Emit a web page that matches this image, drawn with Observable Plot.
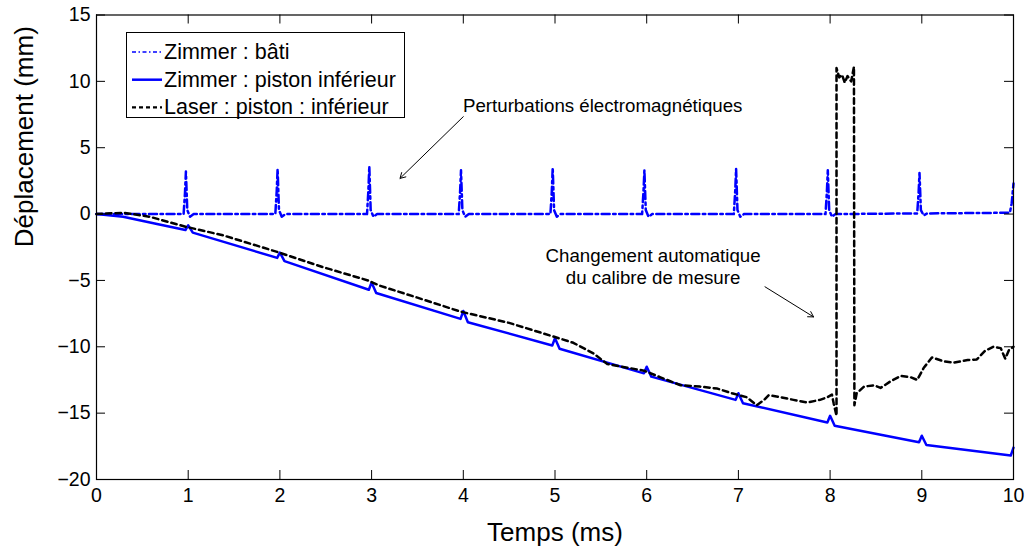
<!DOCTYPE html>
<html>
<head>
<meta charset="utf-8">
<script src="https://cdn.jsdelivr.net/npm/d3@7"></script>
<script src="https://cdn.jsdelivr.net/npm/@observablehq/plot@0.6"></script>
<style>
  html, body { margin: 0; padding: 0; background: #fff; }
  #wrap { position: relative; width: 1026px; height: 558px; font-family: "Liberation Sans", Arial, Helvetica, sans-serif; }
  #legend { position: absolute; left: 126px; top: 32px; width: 279px; height: 86px; border: 1.3px solid #000; background: #fff; box-sizing: border-box; }
  #legend svg { position: absolute; left: 0; top: 0; }
</style>
</head>
<body>
<div id="wrap"></div>
<script>
// ---- data (t in ms, displacement in mm) ----
const xTicks = [0, 1, 2, 3, 4, 5, 6, 7, 8, 9, 10];
const yTicks = [-20, -15, -10, -5, 0, 5, 10, 15];

const seriesNames = ["Zimmer : bâti", "Zimmer : piston inférieur", "Laser : piston : inférieur"];

const zimmerBati = [
  [0, 0], [0.95, 0], [0.965, 1.6], [0.975, 3.2], [0.99, 0.3], [1.02, -0.2], [1.06, 0],
  [1.95, 0], [1.965, 1.7], [1.975, 3.4], [1.99, 0.3], [2.02, -0.2], [2.06, 0],
  [2.95, 0], [2.965, 1.8], [2.975, 3.6], [2.99, 0.3], [3.02, -0.2], [3.06, 0],
  [3.95, 0], [3.965, 1.7], [3.975, 3.3], [3.99, 0.3], [4.02, -0.2], [4.06, 0],
  [4.95, 0], [4.965, 1.7], [4.975, 3.5], [4.99, 0.3], [5.02, -0.2], [5.06, 0],
  [5.95, 0], [5.965, 1.7], [5.975, 3.3], [5.99, 0.3], [6.02, -0.2], [6.06, 0],
  [6.95, 0], [6.965, 1.7], [6.975, 3.4], [6.99, 0.3], [7.02, -0.2], [7.06, 0],
  [7.95, 0], [7.965, 1.7], [7.975, 3.3], [7.99, 0.3], [8.02, -0.2], [8.06, 0],
  [8.95, 0.05], [8.965, 1.6], [8.975, 3.1], [8.99, 0.3], [9.02, -0.1], [9.06, 0.05],
  [9.96, 0.1], [9.98, 0.8], [10, 2.3]
];

const zimmerPiston = [
  [0, 0], [0.29, -0.2], [0.66, -0.75], [0.97, -1.2], [1.0, -0.85], [1.05, -1.4],
  [1.97, -3.3], [2.0, -2.9], [2.05, -3.55],
  [2.97, -5.7], [3.0, -5.15], [3.05, -5.95],
  [3.97, -7.9], [4.0, -7.3], [4.05, -8.15],
  [4.97, -9.9], [5.0, -9.35], [5.05, -10.15],
  [5.97, -12.0], [6.0, -11.5], [6.05, -12.25],
  [6.97, -14.0], [7.0, -13.5], [7.05, -14.25],
  [7.97, -15.7], [8.0, -15.2], [8.05, -15.95],
  [8.97, -17.2], [9.0, -16.7], [9.05, -17.4],
  [9.97, -18.2], [10.0, -17.6]
];

const laserPiston = [
  [0, 0], [0.3, 0.1], [0.58, -0.2], [0.97, -0.95], [1.38, -1.6], [1.97, -2.85],
  [2.47, -4.0], [2.96, -5.0], [3.09, -5.4], [3.5, -6.3], [3.97, -7.35], [4.5, -8.2],
  [4.97, -9.2], [5.2, -9.7], [5.42, -10.5], [5.57, -11.3], [5.97, -11.8], [6.15, -12.3],
  [6.37, -12.9], [6.58, -13.0], [6.77, -13.15], [6.93, -13.5], [7.09, -13.8], [7.2, -14.4],
  [7.28, -14.0], [7.33, -13.65], [7.46, -13.8], [7.6, -14.0], [7.75, -14.2], [7.89, -14.0],
  [7.97, -13.8], [8.02, -13.6], [8.04, -14.3], [8.07, -15.2], [8.07, 11.0], [8.1, 10.3],
  [8.13, 10.5], [8.16, 9.9], [8.19, 10.4], [8.23, 10.0], [8.26, 11.1], [8.265, -14.4],
  [8.29, -13.5], [8.37, -13.0], [8.48, -12.9], [8.55, -13.1], [8.66, -12.6], [8.77, -12.2],
  [8.88, -12.3], [8.95, -12.5], [9.02, -11.6], [9.11, -10.8], [9.24, -11.1], [9.35, -11.2],
  [9.5, -11.0], [9.6, -10.95], [9.69, -10.3], [9.78, -10.0], [9.86, -10.1], [9.91, -10.9],
  [9.95, -10.25], [10, -10.0]
];

const annotations = [
  {text: "Perturbations électromagnétiques", x: 5.52, y: 8.2},
  {text: "Changement automatique\ndu calibre de mesure", x: 6.07, y: -3.9}
];
const arrows = [
  {x1: 4.0, y1: 7.34, x2: 3.31, y2: 2.69},
  {x1: 7.29, y1: -5.48, x2: 7.82, y2: -7.75}
];

// ---- layout ----
const W = 1026, H = 558;
const mL = 96, mR = 13, mT = 14.5, mB = 79;
const innerW = W - mL - mR, innerH = H - mT - mB;
const tickLen = 9;
const font = "'Liberation Sans', Arial, Helvetica, sans-serif";
const blue = "#0000ff";

const chart = Plot.plot({
  width: W, height: H,
  marginLeft: mL, marginRight: mR, marginTop: mT, marginBottom: mB,
  style: {fontFamily: font, background: "#fff", color: "#000"},
  x: {domain: [0, 10]},
  y: {domain: [-20, 15]},
  marks: [
    Plot.line(zimmerBati, {x: d => d[0], y: d => d[1], stroke: blue, strokeWidth: 2.5, strokeDasharray: "8,3.5,2.5,3.5"}),
    Plot.line(zimmerPiston, {x: d => d[0], y: d => d[1], stroke: blue, strokeWidth: 2.5}),
    Plot.line(laserPiston, {x: d => d[0], y: d => d[1], stroke: "#000", strokeWidth: 2.5, strokeDasharray: "5.5,4"}),
    Plot.arrow(arrows, {x1: "x1", y1: "y1", x2: "x2", y2: "y2", stroke: "#000", strokeWidth: 1, headLength: 9}),
    Plot.text(annotations, {x: "x", y: "y", text: "text", fontSize: 18.7, fill: "#000", lineHeight: 1.16}),
    // inward ticks on all four sides
    Plot.ruleX(xTicks, {x: d => d, insetTop: innerH - tickLen, stroke: "#000"}),
    Plot.ruleX(xTicks, {x: d => d, insetBottom: innerH - tickLen, stroke: "#000"}),
    Plot.ruleY(yTicks, {y: d => d, insetRight: innerW - tickLen, stroke: "#000"}),
    Plot.ruleY(yTicks, {y: d => d, insetLeft: innerW - tickLen, stroke: "#000"}),
    Plot.frame({stroke: "#000", strokeWidth: 1.2}),
    Plot.axisX({ticks: xTicks, tickSize: 0, tickPadding: 9, fontSize: 19.5, label: null}),
    Plot.axisY({ticks: yTicks, tickSize: 0, tickPadding: 6, fontSize: 19.5, label: null}),
    Plot.text(["Déplacement (mm)"], {frameAnchor: "left", rotate: -90, dx: -72, fontSize: 26, fill: "#000"}),
    Plot.text(["Temps (ms)"], {frameAnchor: "bottom", dy: 61, fontSize: 26, fill: "#000"})
  ]
});

const wrap = document.getElementById("wrap");
wrap.appendChild(chart);

// legend overlay (inside the axes, top-left as in the reference)
const legendStyles = [
  {stroke: blue, dash: "4,2.5,1.5,2.5", width: 1.5},
  {stroke: blue, dash: null, width: 2.5},
  {stroke: "#000", dash: "4,3", width: 2.4}
];
const leg = document.createElement("div");
leg.id = "legend";
const ns = "http://www.w3.org/2000/svg";
const svg = document.createElementNS(ns, "svg");
svg.setAttribute("width", 279); svg.setAttribute("height", 86);
seriesNames.forEach((name, i) => {
  const cy = 19 + i * 27.7;
  const ln = document.createElementNS(ns, "line");
  ln.setAttribute("x1", 5); ln.setAttribute("x2", 35);
  ln.setAttribute("y1", cy); ln.setAttribute("y2", cy);
  ln.setAttribute("stroke", legendStyles[i].stroke);
  ln.setAttribute("stroke-width", legendStyles[i].width);
  if (legendStyles[i].dash) ln.setAttribute("stroke-dasharray", legendStyles[i].dash);
  svg.appendChild(ln);
  const tx = document.createElementNS(ns, "text");
  tx.setAttribute("x", 37); tx.setAttribute("y", cy);
  tx.setAttribute("dominant-baseline", "central");
  tx.setAttribute("font-size", 21.5);
  tx.setAttribute("font-family", "Liberation Sans, Arial, sans-serif");
  tx.textContent = name;
  svg.appendChild(tx);
});
leg.appendChild(svg);
wrap.appendChild(leg);
</script>
</body>
</html>
